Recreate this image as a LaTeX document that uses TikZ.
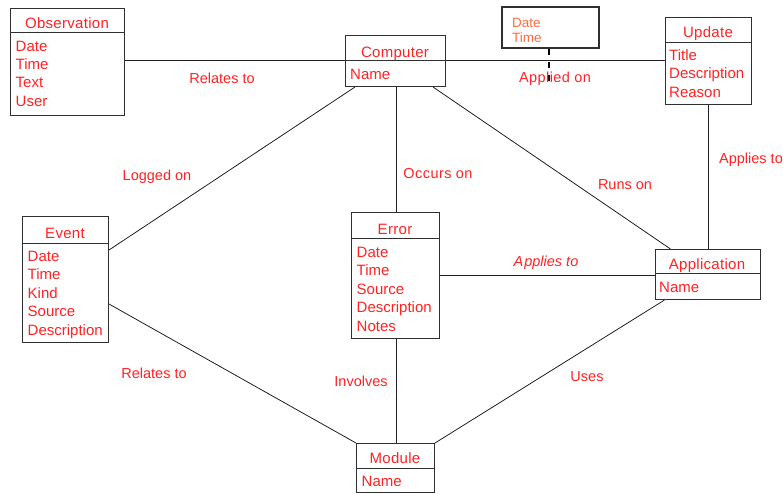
\documentclass[tikz,border=0pt]{standalone}
\usepackage{fontspec}
\setmainfont{Liberation Sans}
\usetikzlibrary{calc}
\definecolor{ertext}{HTML}{FF2222}
\definecolor{dttext}{HTML}{FF6A3D}
\definecolor{boxline}{HTML}{303030}
\definecolor{conline}{HTML}{202020}
\tikzset{
  ebox/.style={draw=boxline, line width=1pt, inner sep=0pt, anchor=north west},
  divider/.style={draw=boxline, line width=1pt},
  ehead/.style={text=ertext, inner sep=0pt, anchor=base, font=\fontsize{15}{18}\selectfont\addfontfeature{LetterSpace=2}},
  eitem/.style={text=ertext, inner sep=0pt, anchor=base west, font=\fontsize{15}{18}\selectfont},
  dtitem/.style={text=dttext, inner sep=0pt, anchor=base west, font=\fontsize{13.5}{16}\selectfont},
  rlabel/.style={text=ertext, inner sep=0pt, anchor=base, font=\fontsize{14.5}{17}\selectfont},
  conn/.style={draw=conline, line width=0.8pt},
}
\begin{document}
\begin{tikzpicture}[x=1pt,y=-1pt]
\useasboundingbox (0,0) rectangle (783,493);

% ---- Observation
\node[ebox, minimum width=114pt, minimum height=107pt] (obs) at (10,8) {};
\draw[divider] (10,32) -- (124,32);
\node[ehead] (obsh) at (67,28) {Observation};
\foreach \t [count=\i] in {Date,Time,Text,User}
  \node[eitem] (obs\i) at (15.5,{51+18.4*(\i-1)}) {\t};

% ---- Computer
\node[ebox, minimum width=100pt, minimum height=51pt] (comp) at (345,35) {};
\draw[divider] (345,60) -- (445,60);
\node[ehead] (comph) at (395,57) {Computer};
\node[eitem] (comp1) at (350,79) {Name};

% ---- Date/Time
\node[ebox, line width=2.2pt, minimum width=97pt, minimum height=41pt] (dt) at (501,6) {};
\node[dtitem] (dt1) at (512,27) {Date};
\node[dtitem] (dt2) at (512,42) {Time};

% ---- Update
\node[ebox, minimum width=86pt, minimum height=87pt] (upd) at (665,17) {};
\draw[divider] (665,42) -- (751,42);
\node[ehead] (updh) at (708,37) {Update};
\foreach \t [count=\i] in {Title,Description,Reason}
  \node[eitem] (upd\i) at (669,{60+18.5*(\i-1)}) {\t};

% ---- Event
\node[ebox, minimum width=86pt, minimum height=126pt] (evt) at (22,216) {};
\draw[divider] (22,243) -- (108,243);
\node[ehead] (evth) at (65,238) {Event};
\foreach \t [count=\i] in {Date,Time,Kind,Source,Description}
  \node[eitem] (evt\i) at (27.5,{261+18.5*(\i-1)}) {\t};

% ---- Error
\node[ebox, minimum width=88pt, minimum height=126pt] (err) at (351,212) {};
\draw[divider] (351,238) -- (439,238);
\node[ehead] (errh) at (395,234) {Error};
\foreach \t [count=\i] in {Date,Time,Source,Description,Notes}
  \node[eitem] (err\i) at (356.5,{257+18.5*(\i-1)}) {\t};

% ---- Application
\node[ebox, minimum width=105pt, minimum height=50pt] (app) at (655,249) {};
\draw[divider] (655,273) -- (760,273);
\node[ehead] (apph) at (707,269) {Application};
\node[eitem] (app1) at (659,292) {Name};

% ---- Module
\node[ebox, minimum width=78pt, minimum height=49pt] (mod) at (356,443) {};
\draw[divider] (356,468) -- (434,468);
\node[ehead] (modh) at (395,463) {Module};
\node[eitem] (mod1) at (361.5,486) {Name};

% ---- Connectors
\draw[conn] (obs.east |- 0,60) -- (comp.west |- 0,60);
\draw[conn] (comp.east |- 0,60) -- (upd.west |- 0,60);
\coordinate (dtend) at (549,82);
\draw[draw=black, line width=2.6pt, dash pattern=on 6pt off 7pt] (dt.south -| 549,0) -- (dtend);
\draw[conn] ([xshift=10pt]comp.south west) -- (evt.east |- 0,250);
\draw[conn] (comp.south -| 396,0) -- (err.north -| 396,0);
\draw[conn] ([xshift=88pt]comp.south west) -- ([xshift=15.5pt]app.north west);
\draw[conn] (upd.south -| 708,0) -- (app.north -| 708,0);
\draw[conn] (err.east |- 0,275) -- (app.west |- 0,275);
\draw[conn] (evt.east |- 0,304) -- (mod.north west);
\draw[conn] (err.south -| 396,0) -- (mod.north -| 396,0);
\draw[conn] ([xshift=9.5pt]app.south west) -- (mod.north east);

% ---- Labels
\node[rlabel] (l1) at (222,83) {Relates to};
\node[rlabel, font=\fontsize{14.5}{17}\selectfont\addfontfeature{LetterSpace=3}] (l2) at (555,82) {Applied on};
\node[rlabel] (l3) at (157,180) {Logged on};
\node[rlabel, font=\fontsize{14.5}{17}\selectfont\addfontfeature{LetterSpace=3}] (l4) at (438,178) {Occurs on};
\node[rlabel] (l5) at (625,189) {Runs on};
\node[rlabel] (l6) at (751,163) {Applies to};
\node[rlabel, font=\fontsize{14.5}{17}\selectfont\itshape] (l7) at (546,266) {A\kern1pt pplies to};
\node[rlabel] (l8) at (154,378) {Relates to};
\node[rlabel] (l9) at (361,386) {Involves};
\node[rlabel] (l10) at (587,381) {Uses};
\end{tikzpicture}
\end{document}
